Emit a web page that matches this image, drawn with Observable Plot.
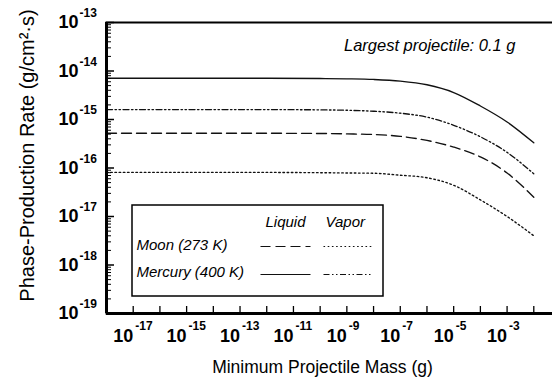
<!DOCTYPE html>
<html>
<head>
<meta charset="utf-8">
<script src="https://cdn.jsdelivr.net/npm/d3@7"></script>
<script src="https://cdn.jsdelivr.net/npm/@observablehq/plot@0.6"></script>
<style>
html, body { margin: 0; padding: 0; overflow: hidden; background: #fff; }
#chart svg { display: block; max-width: none !important; width: 562px !important; height: 389px !important; }
</style>
</head>
<body>
<div id="chart"></div>
<script>
// ---------- data ----------
const mass = [1e-18, 1e-16, 1e-14, 1e-12, 1e-10, 1e-9, 1e-8, 1e-7, 1e-6, 1e-5, 1e-4, 1e-3, 1e-2];
const mercuryLiquid = [7.1e-15, 7.1e-15, 7.1e-15, 7.1e-15, 7.0e-15, 6.9e-15, 6.7e-15, 6.2e-15, 5.2e-15, 3.6e-15, 1.9e-15, 8.9e-16, 3.3e-16];
const mercuryVapor  = [1.6e-15, 1.6e-15, 1.6e-15, 1.6e-15, 1.58e-15, 1.55e-15, 1.48e-15, 1.35e-15, 1.12e-15, 7.6e-16, 4.4e-16, 2.1e-16, 7.6e-17];
const moonLiquid    = [5.2e-16, 5.2e-16, 5.2e-16, 5.2e-16, 5.15e-16, 5.05e-16, 4.9e-16, 4.5e-16, 3.7e-16, 2.7e-16, 1.7e-16, 7.9e-17, 2.5e-17];
const moonVapor     = [8.1e-17, 8.1e-17, 8.1e-17, 8.1e-17, 8.0e-17, 7.9e-17, 7.8e-17, 7.1e-17, 6.3e-17, 4.4e-17, 2.2e-17, 1.0e-17, 4.0e-18];

const yTickExps = [-13, -14, -15, -16, -17, -18, -19];
const xLabelExps = [-17, -15, -13, -11, -9, -7, -5, -3];
const xTickExps = [-17, -16, -15, -14, -13, -12, -11, -10, -9, -8, -7, -6, -5, -4, -3, -2, -1];

const seriesNames = ["Mercury liquid", "Mercury vapor", "Moon liquid", "Moon vapor"];
const seriesValues = [mercuryLiquid, mercuryVapor, moonLiquid, moonVapor];

const legendRows = ["Moon (273 K)", "Mercury (400 K)"];
const legendCols = ["Liquid", "Vapor"];
const annotation = "Largest projectile: 0.1 g";
const xLabel = "Minimum Projectile Mass (g)";
const yLabel = "Phase-Production Rate (g/cm\u00B2\u00B7s)";

// ---------- layout ----------
const W = 562, H = 389, ML = 106, MR = 2, MT = 22, MB = 76;
const X0 = -18, X1 = -1, Y0 = -19, Y1 = -13;
const px2x = px => 10 ** (X0 + (px - ML) * (X1 - X0) / (W - MR - ML));
const py2y = py => 10 ** (Y1 - (py - MT) * (Y1 - Y0) / (H - MB - MT));
const font = "'Liberation Sans', Arial, Helvetica, sans-serif";

const styles = {
  "Mercury liquid": {dash: null},
  "Mercury vapor": {dash: "6,2.5,1.5,2.5,1.5,2.5"},
  "Moon liquid": {dash: "10,5"},
  "Moon vapor": {dash: "1.6,2.6"}
};

const rows = seriesNames.flatMap((s, i) => mass.map((m, j) => ({series: s, mass: m, rate: seriesValues[i][j]})));

// minor y ticks
const yMinor = [];
for (let e = Y0; e < Y1; e++) for (let k = 2; k <= 9; k++) yMinor.push(k * 10 ** e);
const yMajor = yTickExps.map(e => 10 ** e);

const marks = [];
// curves
for (const s of seriesNames) {
  marks.push(Plot.line(rows.filter(d => d.series === s), {
    x: "mass", y: "rate", curve: "monotone-x", stroke: "#111", strokeWidth: 1.35,
    strokeDasharray: styles[s].dash
  }));
}
// frame
marks.push(Plot.frame({stroke: "#000", strokeWidth: 2}));
marks.push(Plot.ruleX([10 ** X0], {stroke: "#000", strokeWidth: 3}));
marks.push(Plot.ruleY([10 ** Y0], {stroke: "#000", strokeWidth: 3}));
// y ticks (inward)
marks.push(Plot.ruleY(yMajor, {y: d => d, x1: px2x(ML), x2: px2x(ML + 8), stroke: "#000", strokeWidth: 1.5}));
marks.push(Plot.ruleY(yMinor, {y: d => d, x1: px2x(ML), x2: px2x(ML + 5), stroke: "#000", strokeWidth: 1}));
// x ticks (inward)
marks.push(Plot.ruleX(xTickExps.map(e => 10 ** e), {x: d => d, y1: py2y(H - MB), y2: py2y(H - MB - 7), stroke: "#000", strokeWidth: 1.3}));
// y tick labels
marks.push(Plot.text(yTickExps, {y: e => 10 ** e, frameAnchor: "left", text: () => "10", textAnchor: "end", dx: -28, dy: 0, fontSize: 18, fontWeight: "bold", fontFamily: font, fill: "#000"}));
marks.push(Plot.text(yTickExps, {y: e => 10 ** e, frameAnchor: "left", text: e => String(e), textAnchor: "start", dx: -27, dy: -9, fontSize: 12, fontWeight: "bold", fontFamily: font, fill: "#000"}));
// x tick labels
marks.push(Plot.text(xLabelExps, {x: e => 10 ** e, frameAnchor: "bottom", text: () => "10", textAnchor: "end", dx: 0, dy: 28, fontSize: 18, fontWeight: "bold", fontFamily: font, fill: "#000"}));
marks.push(Plot.text(xLabelExps, {x: e => 10 ** e, frameAnchor: "bottom", text: e => String(e), textAnchor: "start", dx: 2, dy: 16, fontSize: 12, fontWeight: "bold", fontFamily: font, fill: "#000"}));
// axis titles
marks.push(Plot.text([xLabel], {x: px2x(322), y: py2y(367), text: d => d, fontSize: 17.5, fontFamily: font, fill: "#000"}));
marks.push(Plot.text([yLabel], {x: px2x(27), y: py2y(155), text: d => d, rotate: -90, fontSize: 20, fontFamily: font, fill: "#000"}));
// annotation
marks.push(Plot.text([annotation], {x: px2x(515), y: py2y(45), text: d => d, textAnchor: "end", fontSize: 16.5, fontStyle: "italic", fontFamily: font, fill: "#000"}));
// legend box
marks.push(Plot.rect([0], {x1: px2x(132), x2: px2x(383), y1: py2y(205), y2: py2y(296), fill: "#fff", stroke: "#000", strokeWidth: 1.5}));
marks.push(Plot.text(legendCols, {x: (d, i) => px2x([265, 325][i]), y: py2y(222), text: d => d, textAnchor: "start", fontSize: 15, fontStyle: "italic", fontFamily: font, fill: "#000"}));
marks.push(Plot.text(legendRows, {x: px2x(136), y: (d, i) => py2y([245, 272][i]), text: d => d, textAnchor: "start", fontSize: 15, fontStyle: "italic", fontFamily: font, fill: "#000"}));
const legendSamples = [
  {s: "Moon liquid", x1: 260, x2: 310, y: 246},
  {s: "Moon vapor", x1: 323, x2: 371, y: 246},
  {s: "Mercury liquid", x1: 260, x2: 310, y: 274},
  {s: "Mercury vapor", x1: 323, x2: 371, y: 274}
];
for (const d of legendSamples) {
  marks.push(Plot.link([d], {x1: px2x(d.x1), x2: px2x(d.x2), y1: py2y(d.y), y2: py2y(d.y), stroke: "#111", strokeWidth: 1.2, strokeDasharray: styles[d.s].dash}));
}

const chart = Plot.plot({
  width: W, height: H,
  marginLeft: ML, marginRight: MR, marginTop: MT, marginBottom: MB,
  style: {background: "#fff", overflow: "visible", maxWidth: "none"},
  x: {type: "log", domain: [10 ** X0, 10 ** X1], axis: null},
  y: {type: "log", domain: [10 ** Y0, 10 ** Y1], axis: null},
  marks
});
document.getElementById("chart").appendChild(chart);
</script>
</body>
</html>
